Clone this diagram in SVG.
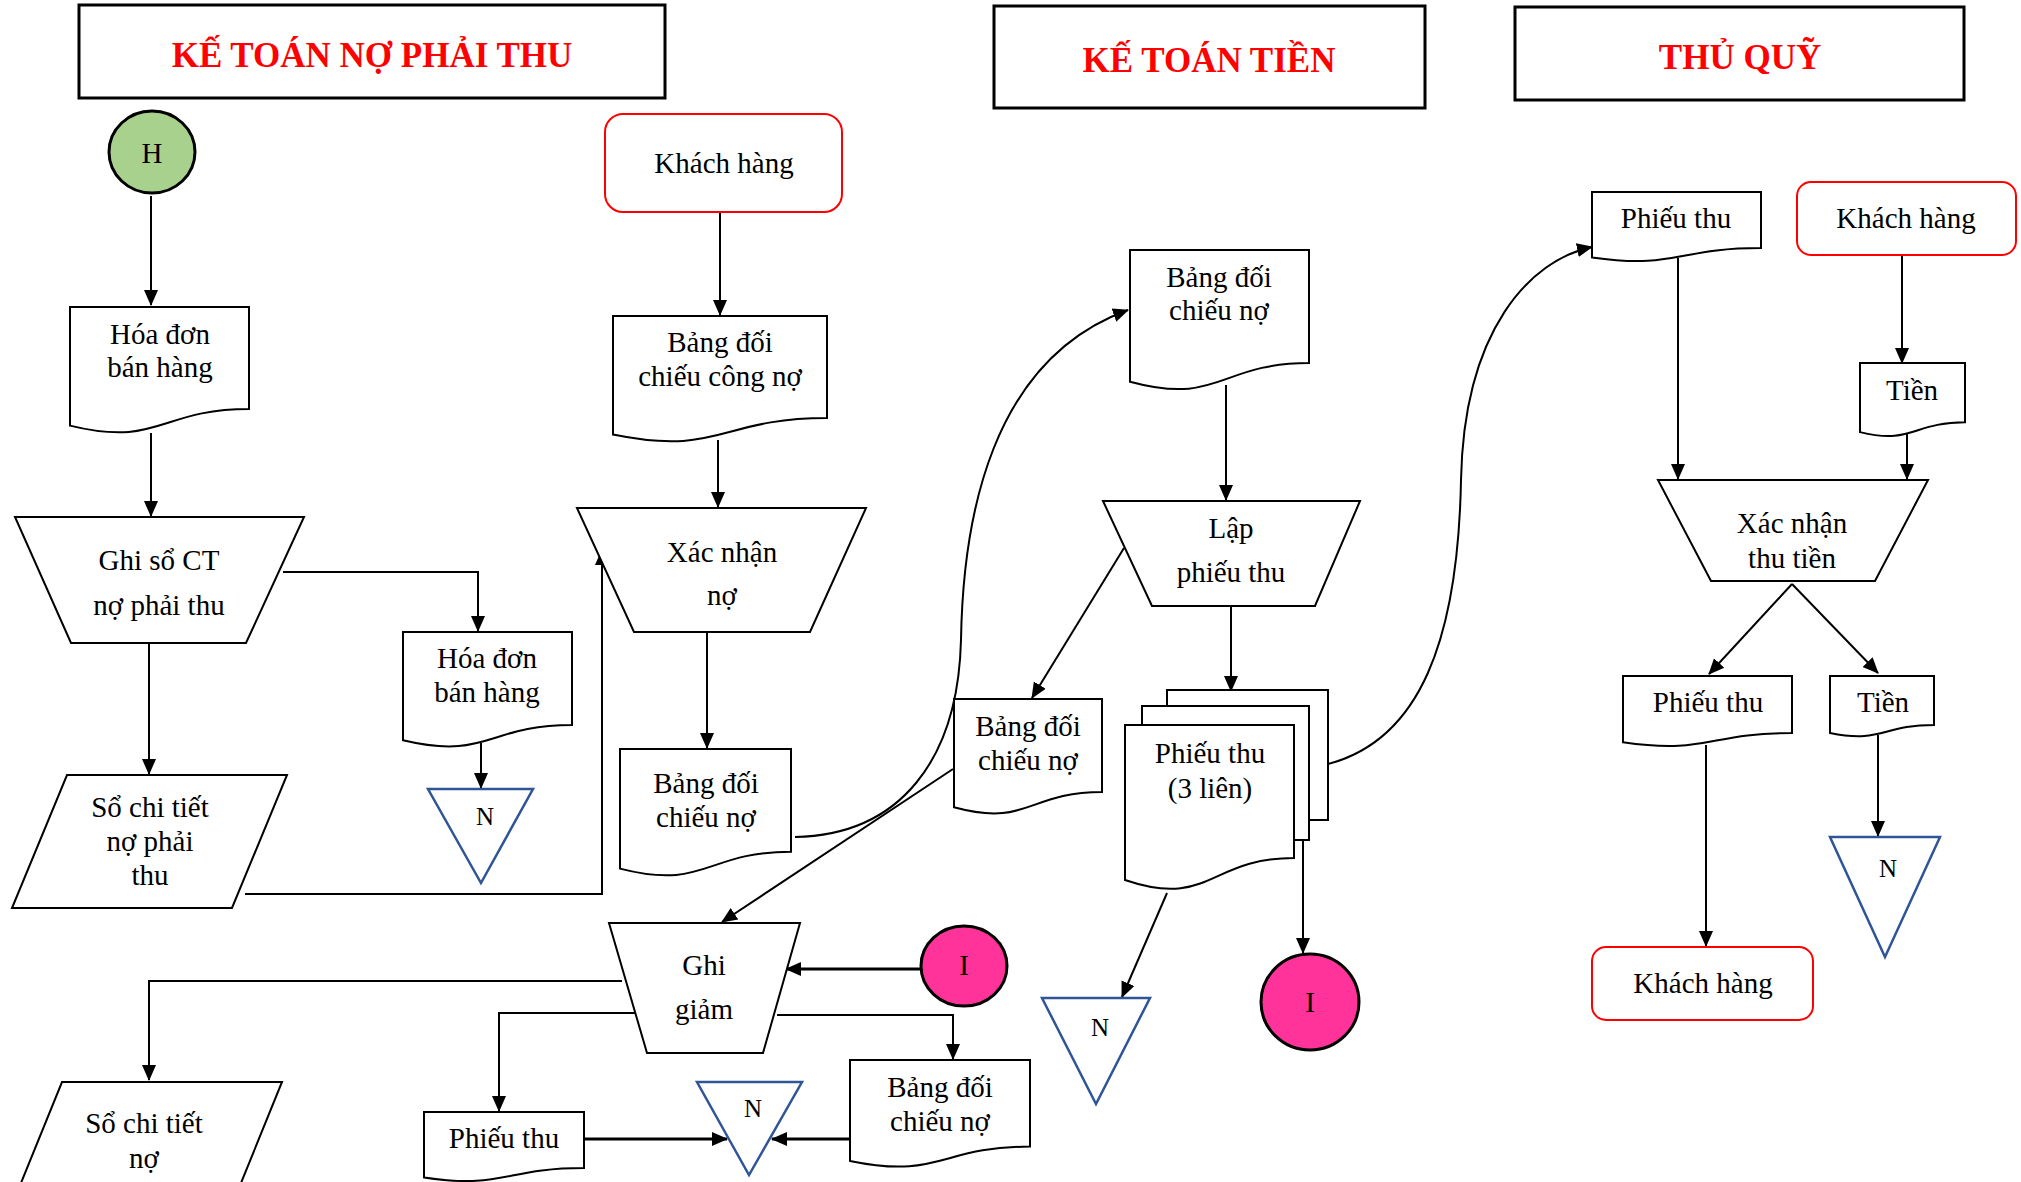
<svg xmlns="http://www.w3.org/2000/svg" width="2021" height="1182" viewBox="0 0 2021 1182">
<style>
.s{fill:#fff;stroke:#000;stroke-width:2}
.hd{fill:#fff;stroke:#000;stroke-width:3}
.kh{fill:#fff;stroke:#FF0000;stroke-width:2}
.tri{fill:#fff;stroke:#2F5597;stroke-width:2.5}
.t{font-family:"Liberation Serif","Times New Roman",serif;font-size:29px;text-anchor:middle;fill:#000}
.n{font-family:"Liberation Serif","Times New Roman",serif;font-size:25px;text-anchor:middle;fill:#000}
.ti{font-family:"Liberation Serif","Times New Roman",serif;font-size:35px;font-weight:bold;text-anchor:middle;fill:#FF0000}
.c{fill:none;stroke:#000;stroke-width:2;marker-end:url(#a)}
.ck{fill:none;stroke:#000;stroke-width:3;marker-end:url(#a)}
</style>
<defs>
<marker id="a" markerUnits="userSpaceOnUse" markerWidth="16" markerHeight="16" viewBox="0 0 16 16" refX="15" refY="8" orient="auto"><path d="M0,1 L16,8 L0,15 Z" fill="#000"/></marker>
</defs>
<rect width="2021" height="1182" fill="#fff"/>

<g id="title1"><rect class="hd" x="79" y="5" width="586" height="93"/><text class="ti" x="372" y="67">KẾ TOÁN NỢ PHẢI THU</text></g>
<g id="title2"><rect class="hd" x="994" y="6" width="431" height="102"/><text class="ti" x="1209" y="72">KẾ TOÁN TIỀN</text></g>
<g id="title3"><rect class="hd" x="1515" y="7" width="449" height="93"/><text class="ti" x="1740" y="69">THỦ QUỸ</text></g>

<g id="connectors">
<path class="c" d="M151,196 V305"/>
<path class="c" d="M151,433 V516"/>
<path class="c" d="M283,572 H478 V631"/>
<path class="c" d="M481,743 V788"/>
<path class="c" d="M149,643 V774"/>
<path class="c" d="M245,894 H602 V550"/>
<path class="c" d="M720,212 V315"/>
<path class="c" d="M718,440 V507"/>
<path class="c" d="M707,632 V748"/>
<path class="c" d="M795,837 C900,835 958,760 961,640 C963,520 990,360 1128,310"/>
<path class="c" d="M1226,385 V500"/>
<path class="c" d="M1231,606 V691"/>
<path class="c" d="M1124,548 L1032,698"/>
<path class="c" d="M1328,764 C1420,740 1458,640 1461,480 C1464,330 1530,260 1592,247"/>
<path class="c" d="M1167,893 L1122,997"/>
<path class="c" d="M1303,840 V953"/>
<path class="c" d="M1678,258 V479"/>
<path class="c" d="M1902,255 V363"/>
<path class="c" d="M1907,432 V479"/>
<path class="c" d="M1792,584 L1709,674"/>
<path class="c" d="M1792,584 L1878,673"/>
<path class="c" d="M1878,735 V836"/>
<path class="c" d="M1706,745 V946"/>
<path class="c" d="M953,769 L722,922"/>
<path class="ck" d="M921,969 H786"/>
<path class="c" d="M622,981 H149 V1080"/>
<path class="c" d="M635,1013 H499 V1111"/>
<path class="c" d="M777,1015 H953 V1059"/>
<path class="ck" d="M584,1139 H727"/>
<path class="ck" d="M850,1139 H772"/>
</g>

<g id="nodeH"><ellipse cx="152" cy="152" rx="43" ry="41" fill="#A9D18E" stroke="#000" stroke-width="3"/><text class="t" x="152" y="163">H</text></g>

<g id="hoadon1"><path class="s" d="M70,307 H249 V409 C159.5,409 159.5,447.6 70,425.6 Z"/><text class="t" x="160" y="344">Hóa đơn</text><text class="t" x="160" y="377">bán hàng</text></g>

<g id="ghisoCT"><polygon class="s" points="15,517 304,517 246,643 71,643"/><text class="t" x="159" y="570">Ghi sổ CT</text><text class="t" x="159" y="615">nợ phải thu</text></g>

<g id="hoadon2"><path class="s" d="M403,632 H572 V725 C487.5,725 487.5,760.4 403,740.3 Z"/><text class="t" x="487" y="668">Hóa đơn</text><text class="t" x="487" y="702">bán hàng</text></g>

<g id="n1"><polygon class="tri" points="428,789 533,789 481,883"/><text class="n" x="485" y="825">N</text></g>

<g id="sochitiet1"><polygon class="s" points="67,775 287,775 232,908 12,908"/><text class="t" x="150" y="817">Sổ chi tiết</text><text class="t" x="150" y="851">nợ phải</text><text class="t" x="150" y="885">thu</text></g>

<g id="khachhang1"><rect class="kh" x="605" y="114" width="237" height="98" rx="18"/><text class="t" x="724" y="173">Khách hàng</text></g>

<g id="bdccongno"><path class="s" d="M613,316 H827 V418 C720,418 720,456.6 613,434.6 Z"/><text class="t" x="720" y="352">Bảng đối</text><text class="t" x="720" y="386">chiếu công nợ</text></g>

<g id="xacnhanno"><polygon class="s" points="577,508 866,508 810,632 634,632"/><text class="t" x="722" y="562">Xác nhận</text><text class="t" x="722" y="605">nợ</text></g>

<g id="bdcno1"><path class="s" d="M620,749 H791 V851.7 C705.5,851.7 705.5,890.7 620,868.6 Z"/><text class="t" x="706" y="793">Bảng đối</text><text class="t" x="706" y="827">chiếu nợ</text></g>

<g id="bdcno2"><path class="s" d="M1130,250 H1309 V363 C1219.5,363 1219.5,406 1130,381.7 Z"/><text class="t" x="1219" y="287">Bảng đối</text><text class="t" x="1219" y="320">chiếu nợ</text></g>

<g id="lapphieuthu"><polygon class="s" points="1103,501 1360,501 1315,606 1152,606"/><text class="t" x="1231" y="538">Lập</text><text class="t" x="1231" y="582">phiếu thu</text></g>

<g id="bdcno3"><path class="s" d="M954,699 H1102 V792 C1028,792 1028,827.4 954,807.3 Z"/><text class="t" x="1028" y="736">Bảng đối</text><text class="t" x="1028" y="770">chiếu nợ</text></g>

<g id="phieuthu3lien"><rect class="s" x="1167" y="690" width="161" height="130"/><rect class="s" x="1142" y="706" width="167" height="134"/><path class="s" d="M1125,725 H1294 V858 C1209.5,858 1209.5,908.8 1125,880 Z"/><text class="t" x="1210" y="763">Phiếu thu</text><text class="t" x="1210" y="798">(3 liên)</text></g>

<g id="n2"><polygon class="tri" points="1042,998 1150,998 1096,1104"/><text class="n" x="1100" y="1036">N</text></g>

<g id="nodeI2"><ellipse cx="1310" cy="1002" rx="49" ry="48" fill="#FF3399" stroke="#000" stroke-width="3"/><text class="t" x="1310" y="1012">I</text></g>

<g id="phieuthu1"><path class="s" d="M1592,192 H1761 V248 C1676.5,248 1676.5,269.5 1592,257.4 Z"/><text class="t" x="1676" y="228">Phiếu thu</text></g>

<g id="khachhang2"><rect class="kh" x="1797" y="182" width="219" height="73" rx="14"/><text class="t" x="1906" y="228">Khách hàng</text></g>

<g id="tien1"><path class="s" d="M1860,363 H1965 V422.3 C1912.5,422.3 1912.5,444.9 1860,432.1 Z"/><text class="t" x="1912" y="400">Tiền</text></g>

<g id="xacnhanthutien"><polygon class="s" points="1658,480 1928,480 1875,581 1711,581"/><text class="t" x="1792" y="533">Xác nhận</text><text class="t" x="1792" y="568">thu tiền</text></g>

<g id="phieuthu2"><path class="s" d="M1623,676 H1792 V733 C1707.5,733 1707.5,754.6 1623,742.3 Z"/><text class="t" x="1708" y="712">Phiếu thu</text></g>

<g id="tien2"><path class="s" d="M1830,676 H1934 V725 C1882,725 1882,743.5 1830,733 Z"/><text class="t" x="1883" y="712">Tiền</text></g>

<g id="n3"><polygon class="tri" points="1830,837 1940,837 1885,957"/><text class="n" x="1888" y="877">N</text></g>

<g id="khachhang3"><rect class="kh" x="1592" y="947" width="221" height="73" rx="14"/><text class="t" x="1703" y="993">Khách hàng</text></g>

<g id="ghigiam"><polygon class="s" points="609,923 800,923 763,1053 647,1053" stroke-width="2.5"/><text class="t" x="704" y="975">Ghi</text><text class="t" x="704" y="1019">giảm</text></g>

<g id="nodeI1"><ellipse cx="964" cy="966" rx="43" ry="40" fill="#FF3399" stroke="#000" stroke-width="3"/><text class="t" x="964" y="975">I</text></g>

<g id="sochitiet2"><polygon class="s" points="62,1082 282,1082 228,1215 8,1215" stroke-width="2.5"/><text class="t" x="144" y="1133">Sổ chi tiết</text><text class="t" x="144" y="1168">nợ</text></g>

<g id="phieuthu4"><path class="s" d="M424,1112 H584 V1168 C504,1168 504,1189.5 424,1177.4 Z"/><text class="t" x="504" y="1148">Phiếu thu</text></g>

<g id="n4"><polygon class="tri" points="697,1082 802,1082 749,1175"/><text class="n" x="753" y="1117">N</text></g>

<g id="bdcno4"><path class="s" d="M850,1060 H1030 V1146.6 C940,1146.6 940,1179.6 850,1160.9 Z"/><text class="t" x="940" y="1097">Bảng đối</text><text class="t" x="940" y="1131">chiếu nợ</text></g>
</svg>
